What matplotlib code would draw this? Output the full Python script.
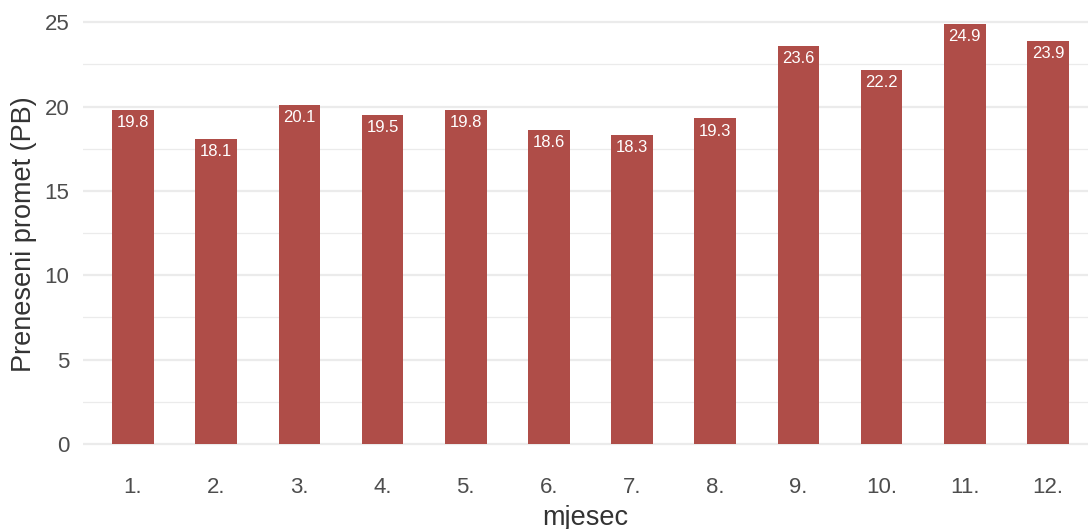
import numpy as np
import matplotlib.pyplot as plt
from matplotlib.ticker import MultipleLocator

# podaci
mjeseci = ['1.', '2.', '3.', '4.', '5.', '6.', '7.', '8.', '9.', '10.', '11.', '12.']
promet = [19.8, 18.1, 20.1, 19.5, 19.8, 18.6, 18.3, 19.3, 23.6, 22.2, 24.9, 23.9]

plt.rcParams['font.family'] = ['Liberation Sans', 'DejaVu Sans']
text_col = '#4D4D4D'
bar_col = '#AF4D48'

fig = plt.figure(figsize=(10.88, 5.29), dpi=100)
ax = fig.add_axes([0.0763, 0.121, 0.9237, 0.8733])

x = np.arange(1, len(mjeseci) + 1)
ax.bar(x, promet, width=0.5, color=bar_col, zorder=3)
for xi, v in zip(x, promet):
    ax.text(xi, v - 0.75, f'{v:.1f}', ha='center', va='center', color='white', fontsize=12, zorder=4)

ax.set_xlim(0.4, 12.48)
ax.set_ylim(-1.245, 26.145)
ax.set_xticks(x)
ax.set_xticklabels(mjeseci)
ax.yaxis.set_major_locator(MultipleLocator(5))
ax.yaxis.set_minor_locator(MultipleLocator(2.5))
ax.grid(axis='y', which='major', color='#EBEBEB', linewidth=1.6, zorder=0)
ax.grid(axis='y', which='minor', color='#EBEBEB', linewidth=0.9, zorder=0)
ax.tick_params(axis='both', which='both', length=0, labelsize=16, labelcolor=text_col)
ax.tick_params(axis='x', pad=9)
ax.tick_params(axis='y', pad=10)
for s in ax.spines.values():
    s.set_visible(False)

ax.set_xlabel('mjesec', fontsize=19.5, color='#333333', labelpad=5)
ax.set_ylabel('Preneseni promet (PB)', fontsize=19.5, color='#333333', labelpad=5)

fig.savefig('out.png', dpi=100)
